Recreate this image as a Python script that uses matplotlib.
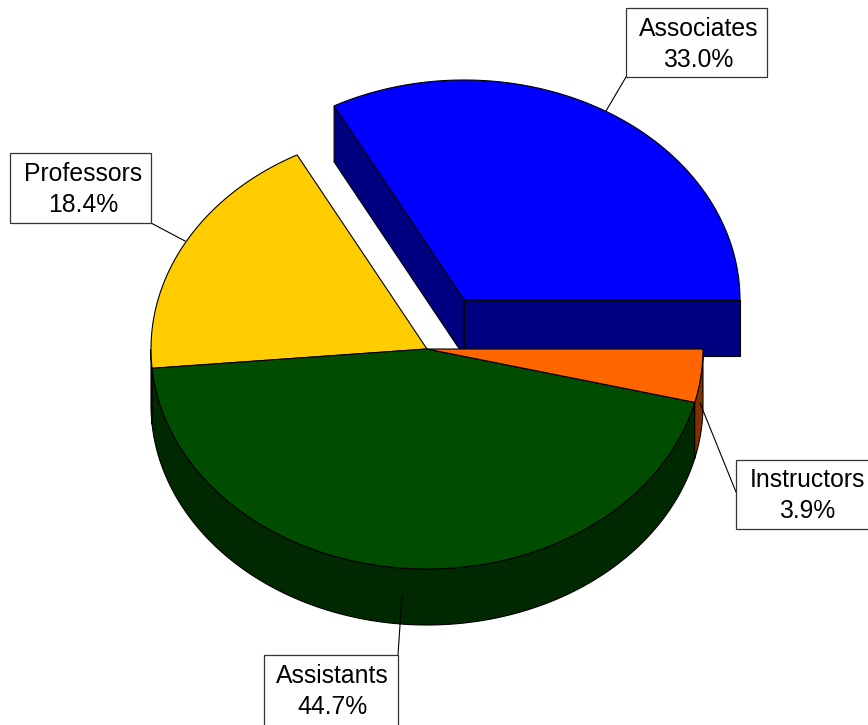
import numpy as np
import matplotlib
matplotlib.use('Agg')
import matplotlib.pyplot as plt
from matplotlib.patches import Polygon

plt.rcParams['font.family'] = ['Liberation Sans', 'DejaVu Sans']

# 数据
labels = ['Associates', 'Professors', 'Assistants', 'Instructors']
shares = [33.0, 18.4, 44.7, 3.9]
# 图上量出来的扇形大小（和标签略有出入）
drawn_shares = [32.8, 18.6, 44.7, 3.9]
top_colors = ['#0000ff', '#ffcc00', '#004d00', '#ff6600']
side_colors = ['#000080', '#806600', '#002900', '#803300']

# 椭圆参数（像素）
cx, cy = 427, 349
rx, ry = 276, 220
depth = 56
ox, oy = 37, -49

# 标签框 (x0, y0, x1, y1)、文字中心和引线
boxes = [(626, 8, 767, 77), (10, 153, 151, 223), (264, 655, 398, 726), (736, 460, 880, 529)]
text_pos = [(698.5, 44.5), (83, 189.5), (332.5, 691.5), (807, 495.5)]
leaders = [((606, 111), (626, 77)), ((185, 241), (151, 223)), ((402, 595), (398, 655)), ((700, 403), (736, 492))]

fig = plt.figure(figsize=(8.68, 7.25), dpi=100)
ax = fig.add_axes([0, 0, 1, 1])
ax.set_xlim(0, 868)
ax.set_ylim(725, 0)
ax.axis('off')


def arc(a0, a1, dx=0, dy=0):
    t = np.radians(np.linspace(a0, a1, 200))
    return np.column_stack([cx + dx + rx * np.cos(t), cy + dy - ry * np.sin(t)])


edges = np.cumsum([0] + drawn_shares)
edges = edges / edges[-1] * 360

# Associates 分离扇形先画，后面的饼会盖住它的下沿
a0, a1 = edges[0], edges[1]
c = np.array([cx + ox, cy + oy])
start = arc(a0, a0, ox, oy)[0]
end = arc(a1, a1, ox, oy)[0]
ax.add_patch(Polygon([c, start, start + [0, depth], c + [0, depth]], fc=side_colors[0], ec='black', lw=0.8, zorder=1))
ax.add_patch(Polygon([c, end, end + [0, depth], c + [0, depth]], fc=side_colors[0], ec='black', lw=0.8, zorder=1))
ax.add_patch(Polygon(np.vstack([[c], arc(a0, a1, ox, oy)]), fc=top_colors[0], ec='black', lw=0.8, zorder=2))

# 其余扇形的侧面
for i in [1, 2, 3]:
    a0, a1 = edges[i], edges[i + 1]
    lo, hi = max(a0, 180), min(a1, 360)
    if lo < hi:
        top = arc(lo, hi)
        bot = arc(hi, lo, 0, depth)
        ax.add_patch(Polygon(np.vstack([top, bot]), fc=side_colors[i], ec='black', lw=0.8, zorder=3))

# 其余扇形的顶面
for i in [1, 2, 3]:
    pts = np.vstack([[[cx, cy]], arc(edges[i], edges[i + 1])])
    ax.add_patch(Polygon(pts, fc=top_colors[i], ec='black', lw=0.8, zorder=4))

# 标签
for name, share, b, p, l in zip(labels, shares, boxes, text_pos, leaders):
    ax.plot([l[0][0], l[1][0]], [l[0][1], l[1][1]], color='black', lw=0.8, zorder=6)
    ax.add_patch(plt.Rectangle((b[0], b[1]), b[2] - b[0], b[3] - b[1], fc='white', ec='#333333', lw=0.9, zorder=7))
    ax.text(p[0], p[1], f'{name}\n{share:.1f}%', ha='center', va='center',
            fontsize=17.8, linespacing=1.38, zorder=8)

fig.savefig('out.png', dpi=100)
